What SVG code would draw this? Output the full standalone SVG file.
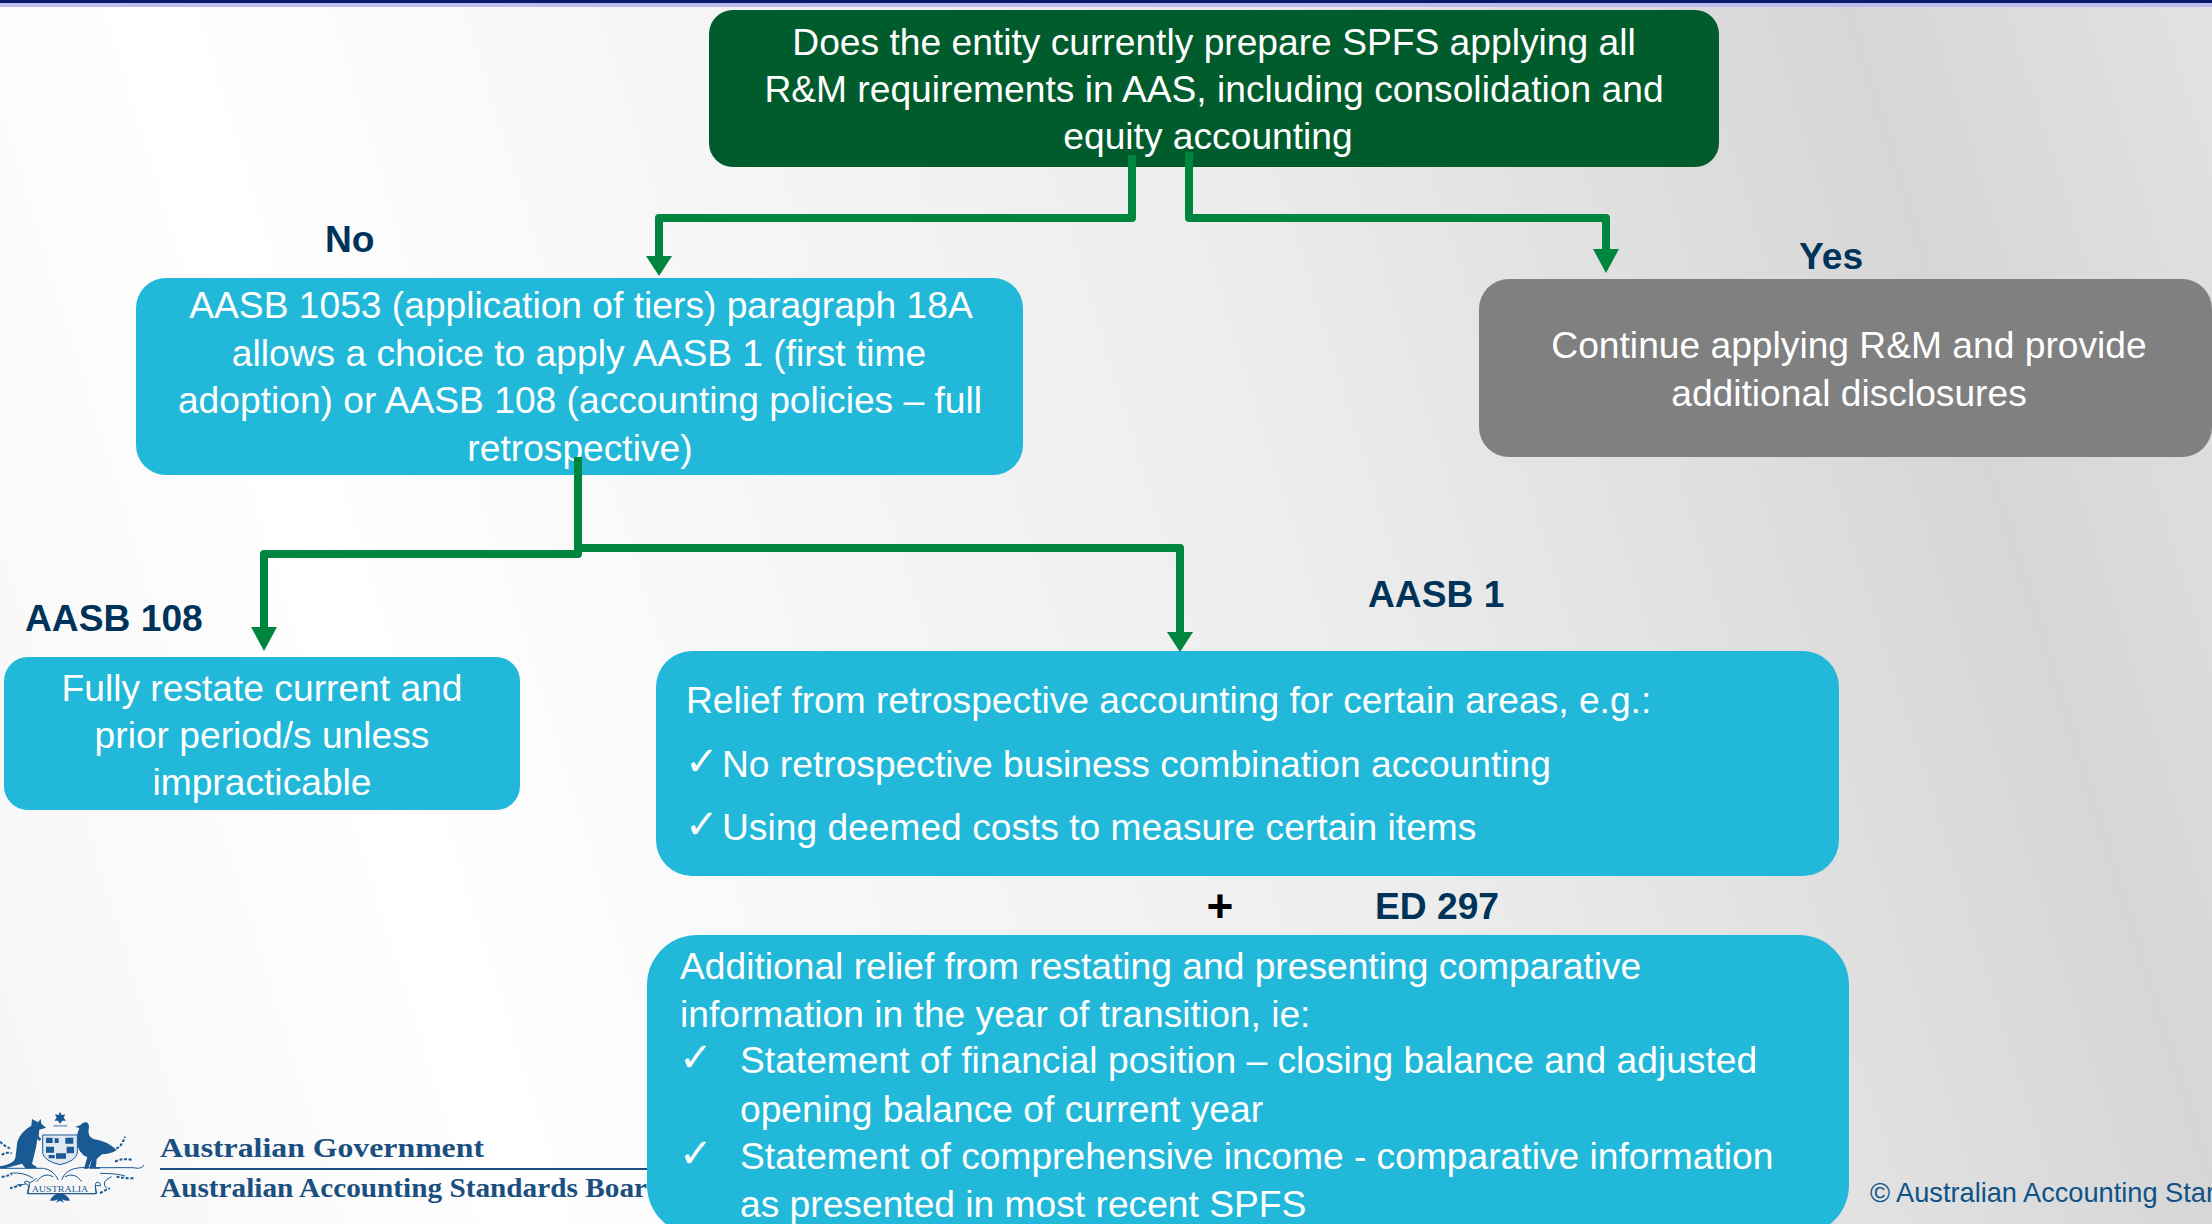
<svg xmlns="http://www.w3.org/2000/svg" width="2212" height="1224" viewBox="0 0 2212 1224">
<style>
.t{font-family:"Liberation Sans",Arial,sans-serif;font-size:37.2px;fill:#fff}
.m{text-anchor:middle}
.l{font-family:"Liberation Sans",Arial,sans-serif;font-size:37.2px;font-weight:700;fill:#003359}
.c{font-family:"DejaVu Sans",sans-serif;font-size:40px;fill:#fff}
.b{fill:#22b8d9}
.cn{fill:none;stroke:#00853e;stroke-width:8;stroke-linejoin:round}
.lg{font-family:"Liberation Serif","Times New Roman",serif;font-weight:700;fill:#1a4f7f;font-size:28px}
.br{fill:none;stroke:#1a5a94;stroke-width:3}
.lf{fill:none;stroke:#1a5a94;stroke-width:6;stroke-dasharray:9 5}
</style>
<defs>
<linearGradient id="bg" gradientUnits="userSpaceOnUse" x1="450" y1="980" x2="2000" y2="500" spreadMethod="reflect">
<stop offset="0" stop-color="#ffffff"/><stop offset=".6" stop-color="#ececec"/><stop offset="1" stop-color="#d6d6d6"/>
</linearGradient>
<marker id="h" markerUnits="userSpaceOnUse" markerWidth="24" markerHeight="26" refX="0" refY="13" orient="auto"><path d="M0 0L24 13L0 26Z" fill="#00853e"/></marker>
<marker id="s" markerUnits="userSpaceOnUse" markerWidth="20" markerHeight="26" refX="0" refY="13" orient="auto"><path d="M0 0L20 13L0 26Z" fill="#00853e"/></marker>
</defs>
<rect width="2212" height="1224" fill="url(#bg)"/>
<rect width="2212" height="3" fill="#0a1a6a"/>
<rect y="3" width="2212" height="4" fill="#b9bdf2"/>

<g id="logo">
<g transform="translate(0 1105) scale(.3333)">
<path d="M180 20l5 10 11-2-5 10 7 9-11 0-7 10-6-10-11 0 7-9-5-10 11 2z" fill="#1a5a94"/>
<path d="M160 60h42v5h-42z" fill="#8aa8c6"/>
<path d="M96 42l18 10 8-10 2 14 14 12-20 6-2 20 8 8-6 6-6-6-4 26-12 48 14 10v4h-34l-10-14-50 14H0v-6q40-6 46-24l6-50q10-30 42-48z" fill="#1a5a94"/>
<path d="M242 60q6-10 18-8 10 6 6 20-4 22 14 30 44 6 70 34-20 12-44 12l-16 14-2 24h12v5h-32l8-30-12 30h-12l10-34q-30-14-32-50 0-22 8-38-6-2-12-4z" fill="#1a5a94"/>
<path d="M128 90h104v55q-6 24-52 34-46-10-52-34z" fill="#dfe7f0" stroke="#1a5a94" stroke-width="3"/>
<path d="M138 98h20v16h-20zM164 100h12v14h-12zM196 98h24v18h-24zM138 125h24v18h-24zM168 145h30v16h-30zM200 125h22v20h-22zM146 150h18v10h-18z" fill="#1a5a94"/>
<path class="br" d="M0 190H130Q160 194 175 225M432 180Q425 194 400 188H240Q195 192 185 225M30 205q40-5 70 15M50 240q40 0 60-20M300 205q50 0 75 8M320 250q-20-20 15-35M110 230q20-30 50-15M245 230q-20-30-50-15"/>
<path class="lf" d="M335 130q25 8 40-35M345 170q25-12 50-5M0 110q15 15 30 20M5 150q15-10 30-5M350 215q25 5 55 5M5 215q15 0 30-8M30 250q15-5 35-10M300 265q15-10 30-15"/>
<path d="M72 232q8-8 16 0v12l-4 22H290l-4-22q0-14 8-12t8 10l-16 0 2 24H82l4-24z" fill="#fff" stroke="#1a5a94" stroke-width="3"/>
<text x="180" y="261" text-anchor="middle" textLength="170" lengthAdjust="spacingAndGlyphs" font-family="Liberation Serif,serif" font-size="24" fill="#1a5a94">AUSTRALIA</text>
<path d="M180 265q-22 2-30 22 14 2 24-4l-6 10 12-6 12 6-6-10q10 6 24 4-8-20-30-22z" fill="#1a5a94"/>
</g>
<text class="lg" x="160" y="1157" textLength="324" lengthAdjust="spacingAndGlyphs">Australian Government</text>
<rect x="160" y="1168" width="490" height="2" fill="#1a4f7f"/>
<text class="lg" x="160" y="1197" textLength="487" lengthAdjust="spacingAndGlyphs">Australian Accounting Standards Boar</text>
</g>

<text id="copyright" x="1870" y="1202" font-family="Liberation Sans,Arial,sans-serif" font-size="27.2" fill="#0f5288">© Australian Accounting Star</text>

<g id="n-question">
<rect x="709" y="10" width="1010" height="157" rx="24" fill="#005c2c"/>
<text class="t m" x="1214" y="55">Does the entity currently prepare SPFS applying all</text>
<text class="t m" x="1214" y="102">R&amp;M requirements in AAS, including consolidation and</text>
<text class="t m" x="1208" y="149">equity accounting</text>
</g>
<g id="n-choice">
<rect class="b" x="136" y="278" width="887" height="197" rx="30"/>
<text class="t m" x="581" y="318">AASB 1053 (application of tiers) paragraph 18A</text>
<text class="t m" x="579" y="366">allows a choice to apply AASB 1 (first time</text>
<text class="t m" x="580" y="413">adoption) or AASB 108 (accounting policies – full</text>
<text class="t m" x="580" y="461">retrospective)</text>
</g>
<g id="n-continue">
<rect x="1479" y="279" width="733" height="178" rx="30" fill="#808080"/>
<text class="t m" x="1849" y="358">Continue applying R&amp;M and provide</text>
<text class="t m" x="1849" y="406">additional disclosures</text>
</g>
<g id="n-restate">
<rect class="b" x="4" y="657" width="516" height="153" rx="24"/>
<text class="t m" x="262" y="701">Fully restate current and</text>
<text class="t m" x="262" y="748">prior period/s unless</text>
<text class="t m" x="262" y="795">impracticable</text>
</g>
<g id="n-relief">
<rect class="b" x="656" y="651" width="1183" height="225" rx="36"/>
<text class="t" x="686" y="713">Relief from retrospective accounting for certain areas, e.g.:</text>
<text class="c" x="685" y="775">✓</text>
<text class="t" x="722" y="777">No retrospective business combination accounting</text>
<text class="c" x="685" y="838">✓</text>
<text class="t" x="722" y="840">Using deemed costs to measure certain items</text>
</g>
<g id="n-additional">
<rect class="b" x="647" y="935" width="1202" height="300" rx="50"/>
<text class="t" x="680" y="979">Additional relief from restating and presenting comparative</text>
<text class="t" x="680" y="1027">information in the year of transition, ie:</text>
<text class="c" x="679" y="1071">✓</text>
<text class="t" x="740" y="1073">Statement of financial position – closing balance and adjusted</text>
<text class="t" x="740" y="1122">opening balance of current year</text>
<text class="c" x="679" y="1167">✓</text>
<text class="t" x="740" y="1169">Statement of comprehensive income - comparative information</text>
<text class="t" x="740" y="1217">as presented in most recent SPFS</text>
</g>

<g id="labels">
<text class="l" x="325" y="252">No</text>
<text class="l" x="1799" y="269">Yes</text>
<text class="l" x="25" y="631">AASB 108</text>
<text class="l" x="1368" y="607">AASB 1</text>
<text class="l" x="1375" y="919">ED 297</text>
<text x="1220" y="922" text-anchor="middle" font-family="Liberation Sans,Arial,sans-serif" font-size="46" font-weight="700" fill="#000">+</text>
</g>

<g id="connectors">
<path class="cn" d="M1132 155V218H659V256" marker-end="url(#s)"/>
<path class="cn" d="M1189 152V218H1606V249" marker-end="url(#h)"/>
<path class="cn" d="M578 457V554H264V627" marker-end="url(#h)"/>
<path class="cn" d="M578 548H1180V632" marker-end="url(#s)"/>
</g>
</svg>
